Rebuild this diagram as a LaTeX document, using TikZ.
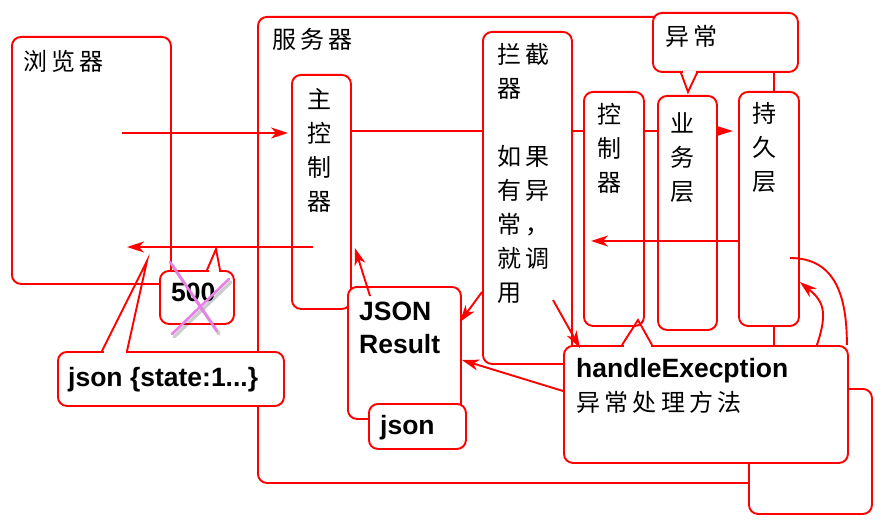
\documentclass[tikz,border=0pt]{standalone}
\usepackage{fontspec}
\setmainfont{Liberation Sans}
\newfontfamily\cjk{Noto Sans CJK SC}[LetterSpace=18]
\usetikzlibrary{arrows.meta,calc}
\pgfdeclarelayer{bg}
\pgfdeclarelayer{mid}
\pgfsetlayers{bg,mid,main}
\definecolor{strikepink}{RGB}{232,128,232}
\tikzset{
  box/.style={draw=red, line width=1.9pt, rounded corners=9pt, fill=white, inner sep=0pt, anchor=north west},
  zh/.style={inner sep=0pt, anchor=north west, align=left, font=\cjk\fontsize{24}{34}\selectfont},
  en/.style={inner sep=0pt, anchor=north west, align=left, font=\bfseries\fontsize{26.5}{33}\selectfont},
  link/.style={red, line width=1.9pt},
  flow/.style={link, -{Stealth[length=17pt,width=11pt,inset=5pt]}},
  tailside/.style={red, line width=1.9pt},
  strike/.style={strikepink, line width=2.6pt, line cap=round},
  strikeshade/.style={black, opacity=.2, line width=3.4pt, line cap=round},
}
% pointer of a callout: base left, tip, base right
\newcommand\calltail[3]{%
  \fill[white] ($(#1)+(1.5,-1.5)$) rectangle ($(#3)+(-1.5,1.5)$);
  \draw[tailside] (#1) -- (#2) -- (#3);}

\begin{document}
\begin{tikzpicture}[x=1pt, y=-1pt]

	\useasboundingbox (0,0) rectangle (882,524);

	\begin{pgfonlayer}{bg}
		\node[box, minimum width=516pt, minimum height=466pt] (server) at (257,16) {};
		\node[box, minimum width=123pt, minimum height=125pt] (spare) at (748,388) {};
		\node[box, minimum width=159pt, minimum height=247pt] (browser) at (11,36) {};
	\end{pgfonlayer}

	% boxes inside the server
	\node[box, minimum width=59pt, minimum height=234pt] (mainctl) at (291,74) {};
	\node[box, minimum width=89pt, minimum height=332pt] (filter) at (482,31) {};
	\node[box, minimum width=60pt, minimum height=234pt] (ctl) at (583,91) {};
	\node[box, minimum width=59pt, minimum height=234pt] (service) at (657,95) {};
	\node[box, minimum width=60pt, minimum height=234pt] (dao) at (738,91) {};
	\node[box, minimum width=113pt, minimum height=132pt] (result) at (347,286) {};
	\node[box, minimum width=97pt, minimum height=45pt] (jsonbox) at (368,403) {};

	% callouts
	\node[box, minimum width=145pt, minimum height=59pt] (except) at (652,12) {};
		\coordinate (except-a) at ([xshift=29pt]except.south west);
		\coordinate (except-b) at ([xshift=45pt]except.south west);
		\coordinate (except-t) at (688,92);
		\calltail{except-a}{except-t}{except-b}
	\node[box, minimum width=284pt, minimum height=117pt] (handler) at (563,345) {};
		\coordinate (handler-a) at ([xshift=59pt]handler.north west);
		\coordinate (handler-b) at ([xshift=89pt]handler.north west);
		\coordinate (handler-t) at (638,320);
		\calltail{handler-a}{handler-t}{handler-b}
	\node[box, minimum width=74pt, minimum height=53pt] (code) at (159,270) {};
		\coordinate (code-a) at ([xshift=48pt]code.north west);
		\coordinate (code-b) at ([xshift=61pt]code.north west);
		\coordinate (code-t) at (216,249);
		\calltail{code-a}{code-t}{code-b}
	\node[box, minimum width=226pt, minimum height=54pt] (reply) at (57,351) {};
		\coordinate (reply-a) at ([xshift=45pt]reply.north west);
		\coordinate (reply-b) at ([xshift=70pt]reply.north west);
		\coordinate (reply-t) at (147,261);
		\calltail{reply-a}{reply-t}{reply-b}

	% the request, behind the boxes
	\coordinate (row1) at (0,131);
	\begin{pgfonlayer}{mid}
		\draw[link, -{Triangle[length=17pt,width=10pt]}, shorten >=5pt] (mainctl.east |- row1) -- (dao.west |- row1);
	\end{pgfonlayer}

	\coordinate (click) at (122,133);
	\draw[flow, shorten >=3pt] (click) -- (mainctl.west |- click);
	\coordinate (back) at (591,241);
	\draw[flow] (dao.west |- back) -- (back);
	\coordinate (resp) at (313,247);
	\coordinate (resp-end) at (127,247);
	\draw[flow] (resp) -- (resp-end);
	\draw[flow] ([shift={(23,10)}]result.north west) -- ([shift={(3,174)}]mainctl.north east);
	\draw[flow] ([shift={(0,261)}]filter.north west) -- ([shift={(-2,36)}]result.north east);
	\draw[flow] ([shift={(71,269)}]filter.north west) -- ([shift={(17,3)}]handler.north west);
	\draw[flow] ([shift={(0,46)}]handler.north west) -- ([shift={(0,74)}]result.north east);
	\draw[link] ([shift={(-10,167)}]dao.north east) .. controls +(45,0) and +(0,-50) .. ([xshift=-2pt]handler.north east);
	\draw[flow] ([xshift=-32pt]handler.north east) .. controls +(12,-35) and +(22,18) .. ([shift={(0,191)}]dao.north east);

	% texts
	\node[zh] (browser-txt) at (23,50) {浏览器};
	\node[zh] (server-txt) at (272,28) {服务器};
	\node[zh] (mainctl-txt) at (307,88) {主\\控\\制\\器};
	\node[zh] (filter-txt) at (497,43) {拦截\\器\\[34pt]如果\\有异\\常，\\就调\\用};
	\node[zh] (ctl-txt) at (597,103) {控\\制\\器};
	\node[zh] (service-txt) at (670,112) {业\\务\\层};
	\node[zh] (dao-txt) at (752,102) {持\\久\\层};
	\node[zh] (except-txt) at (665,25) {异常};
	\node[en] (handler-txt) at (576,358) {handleExecption};
	\node[zh] (handler-zh) at (576,391) {异常处理方法};
	\node[en] (result-txt) at (359,302) {JSON\\Result};
	\node[en] (jsonbox-txt) at (380,415) {json};
	\node[en] (code-txt) at (171,283) {500};
	\node[en] (reply-txt) at (68,367) {json \{state:1...\}};

	% 500 is struck out
	\draw[strikeshade] (172,265) -- (219,334);
	\draw[strikeshade] (174,337) -- (231,282);
	\draw[strike] (170,262) -- (217,331);
	\draw[strike] (172,334) -- (229,279);

\end{tikzpicture}
\end{document}
